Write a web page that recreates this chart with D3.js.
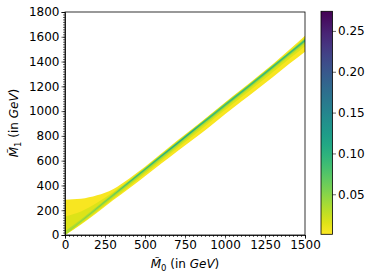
<!DOCTYPE html>
<meta charset="utf-8">
<style>
  body { margin: 0; background: #fff; }
  text { font-family: "DejaVu Sans", sans-serif; }
</style>
<svg width="374" height="279"></svg>
<script src="https://cdn.jsdelivr.net/npm/d3@7"></script>
<script>
  // M0 sample positions (GeV)
  var m0 = [0, 100, 200, 300, 400, 500, 600, 700, 800, 900, 1000, 1100, 1200, 1300, 1400, 1500];

  // density levels (outer -> core)
  var levelValues = [0.004, 0.015, 0.035, 0.06, 0.09, 0.12];

  var lvl1Lo = [0, 85, 180, 280, 375, 475, 575, 675, 770, 870, 975, 1075, 1175, 1275, 1380, 1480];
  var lvl1Hi = [285, 292, 320, 370, 455, 550, 655, 760, 862, 965, 1070, 1172, 1276, 1380, 1493, 1608];
  var lvl2Lo = [0, 90, 190, 290, 390, 492, 595, 698, 800, 905, 1008, 1110, 1213, 1316, 1420, 1524];
  var lvl2Hi = [150, 190, 260, 345, 440, 540, 648, 752, 856, 960, 1064, 1166, 1270, 1374, 1480, 1595];
  var lvl3Lo = [0, 100, 202, 305, 405, 508, 612, 715, 820, 923, 1027, 1130, 1233, 1337, 1442, 1546];
  var lvl3Hi = [30, 125, 230, 335, 437, 542, 647, 750, 855, 958, 1063, 1165, 1268, 1372, 1477, 1588];
  var lvl4Lo = [3, 108, 212, 315, 416, 520, 624, 727, 831, 934, 1037, 1140, 1243, 1347, 1452, 1557];
  var lvl4Hi = [3, 112, 220, 326, 432, 537, 643, 746, 851, 954, 1059, 1161, 1265, 1369, 1474, 1582];
  var lvl5Lo = [5, 110, 216, 320, 422, 525, 629, 731, 836, 939, 1043, 1145, 1249, 1353, 1458, 1563];
  var lvl5Hi = [5, 110, 216, 321, 429, 534, 640, 744, 849, 952, 1056, 1158, 1262, 1366, 1471, 1577];
  var lvl6Lo = [5, 110, 216, 320, 425, 529, 633, 735, 840, 944, 1049, 1151, 1255, 1359, 1464, 1570];
  var lvl6Hi = [5, 110, 216, 320, 425, 529, 637, 741, 845, 944, 1049, 1151, 1255, 1359, 1464, 1570];

  var xTicks = [0, 250, 500, 750, 1000, 1250, 1500];
  var yTicks = [0, 200, 400, 600, 800, 1000, 1200, 1400, 1600, 1800];
  var cbTicks = [0.05, 0.10, 0.15, 0.20, 0.25];
  var cbMin = 0.001, cbMax = 0.274;

  var levels = [
    [lvl1Lo, lvl1Hi], [lvl2Lo, lvl2Hi], [lvl3Lo, lvl3Hi],
    [lvl4Lo, lvl4Hi], [lvl5Lo, lvl5Hi], [lvl6Lo, lvl6Hi]
  ];

  var svg = d3.select("svg");
  var plotL = 65, plotR = 305, plotT = 12, plotB = 235;

  var x = d3.scaleLinear().domain([0, 1500]).range([plotL, plotR]);
  var y = d3.scaleLinear().domain([0, 1800]).range([plotB, plotT]);
  var color = function(v) {
    return d3.interpolateViridis(1 - (v - cbMin) / (cbMax - cbMin));
  };

  svg.append("clipPath").attr("id", "clip")
    .append("rect").attr("x", plotL).attr("y", plotT)
    .attr("width", plotR - plotL).attr("height", plotB - plotT);

  var band = svg.append("g").attr("clip-path", "url(#clip)");

  levels.forEach(function(lv, k) {
    var area = d3.area()
      .x(function(d, i) { return x(m0[i]); })
      .y0(function(d, i) { return y(lv[0][i]); })
      .y1(function(d, i) { return y(lv[1][i]); })
      .curve(d3.curveMonotoneX);
    band.append("path")
      .datum(m0)
      .attr("d", area)
      .attr("fill", color(levelValues[k]));
  });

  // axes
  var xAxis = svg.append("g")
    .attr("transform", "translate(0," + plotB + ")")
    .call(d3.axisBottom(x).tickValues(xTicks).tickSize(3.5).tickPadding(2).tickFormat(d3.format("d")));
  xAxis.append("g").call(d3.axisBottom(x).tickValues(d3.range(0, 1501, 25)).tickSize(2).tickFormat(""))
    .select(".domain").remove();

  var yAxis = svg.append("g")
    .attr("transform", "translate(" + plotL + ",0)")
    .call(d3.axisLeft(y).tickValues(yTicks).tickSize(3.5).tickPadding(2).tickFormat(d3.format("d")));
  yAxis.append("g").call(d3.axisLeft(y).tickValues(d3.range(0, 1801, 20)).tickSize(2).tickFormat(""))
    .select(".domain").remove();

  svg.selectAll(".tick text").attr("font-size", 12).attr("font-family", "DejaVu Sans").attr("fill", "#000");
  svg.selectAll(".domain").attr("stroke", "#000").attr("stroke-width", 0.8);
  svg.selectAll(".tick line").attr("stroke", "#000").attr("stroke-width", 0.6);

  svg.append("rect")
    .attr("x", plotL).attr("y", plotT)
    .attr("width", plotR - plotL).attr("height", plotB - plotT)
    .attr("fill", "none").attr("stroke", "#000").attr("stroke-width", 0.8);

  // axis labels
  var xl = svg.append("text").attr("x", 185).attr("y", 268).attr("text-anchor", "middle").attr("font-size", 12);
  xl.append("tspan").attr("font-style", "italic").text("M\u0303");
  xl.append("tspan").attr("font-size", 8.5).attr("dy", 2.5).text("0");
  xl.append("tspan").attr("dy", -2.5).text(" (in ");
  xl.append("tspan").attr("font-style", "italic").text("GeV");
  xl.append("tspan").text(")");

  var yl = svg.append("text").attr("transform", "translate(18,123) rotate(-90)").attr("text-anchor", "middle").attr("font-size", 12);
  yl.append("tspan").attr("font-style", "italic").text("M\u0303");
  yl.append("tspan").attr("font-size", 8.5).attr("dy", 2.5).text("1");
  yl.append("tspan").attr("dy", -2.5).text(" (in ");
  yl.append("tspan").attr("font-style", "italic").text("GeV");
  yl.append("tspan").text(")");

  // colorbar
  var cbX = 321, cbW = 11.5, cbTop = 11.3, cbBottom = 234.3;
  var cy = d3.scaleLinear().domain([cbMin, cbMax]).range([cbBottom, cbTop]);
  var grad = svg.append("defs").append("linearGradient").attr("id", "cbgrad")
    .attr("x1", 0).attr("y1", 1).attr("x2", 0).attr("y2", 0);
  d3.range(0, 1.0001, 0.05).forEach(function(t) {
    grad.append("stop").attr("offset", t).attr("stop-color", d3.interpolateViridis(1 - t));
  });
  svg.append("rect").attr("x", cbX).attr("y", cbTop).attr("width", cbW).attr("height", cbBottom - cbTop)
    .attr("fill", "url(#cbgrad)").attr("stroke", "#000").attr("stroke-width", 0.8);
  var cbAxis = svg.append("g").attr("transform", "translate(" + (cbX + cbW) + ",0)")
    .call(d3.axisRight(cy).tickValues(cbTicks).tickSize(3.5).tickPadding(2).tickFormat(d3.format(".2f")));
  cbAxis.select(".domain").remove();
  cbAxis.selectAll("text").attr("font-size", 12).attr("font-family", "DejaVu Sans").attr("fill", "#000");
  cbAxis.selectAll("line").attr("stroke", "#000").attr("stroke-width", 0.6);
</script>
